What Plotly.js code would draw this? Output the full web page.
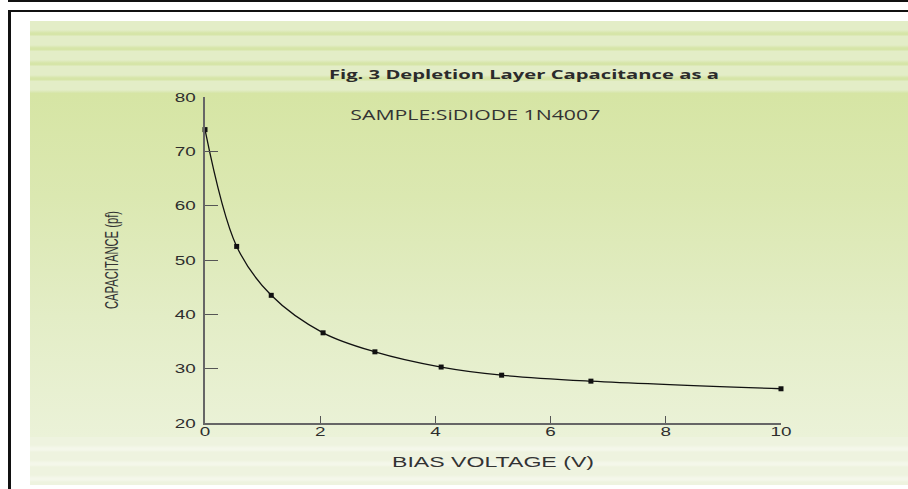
<!DOCTYPE html>
<html>
<head>
<meta charset="utf-8">
<script src="https://cdn.plot.ly/plotly-3.0.1.min.js"></script>
<style>
  html, body { margin: 0; padding: 0; background: #ffffff; }
  body { width: 908px; height: 489px; position: relative; overflow: hidden; }
  .blk { position: absolute; background: #111; }
  #topbar { left: 8px; top: 0; width: 900px; height: 2px; }
  #line2 { left: 8px; top: 10px; width: 900px; height: 2px; }
  #leftline { left: 8px; top: 10px; width: 3px; height: 479px; }
  .pn { position: absolute; left: 30px; width: 878px; }
  #pTop { top: 21px; height: 72px;
    background: repeating-linear-gradient(to bottom,
      #e3edc7 0px, #e3edc7 9px, #d6e5a8 12px, #d6e5a8 14px, #e3edc7 15px); }
  #pMain { top: 93px; height: 344px;
    background: linear-gradient(to bottom, #d6e5a4 0%, #dbe8b1 30%, #e3edc6 65%, #ebf2d8 100%); }
  #pBot { top: 437px; height: 48px;
    background: repeating-linear-gradient(to bottom,
      #eef3df 0px, #eef3df 8px, #f4f7ea 11px, #f4f7ea 13px, #eef3df 15px); }
  #chart { position: absolute; left: 0; top: 0; width: 908px; height: 489px; }
</style>
</head>
<body>
<div id="topbar" class="blk"></div>
<div id="line2" class="blk"></div>
<div id="leftline" class="blk"></div>
<div id="pTop" class="pn"></div>
<div id="pMain" class="pn"></div>
<div id="pBot" class="pn"></div>
<div id="chart"></div>
<script>
// Bias voltage (V) and measured depletion-layer capacitance (pF)
const biasVoltage = [0, 0.55, 1.15, 2.05, 2.95, 4.1, 5.15, 6.7, 10.0];
const capacitance = [74, 52.5, 43.5, 36.6, 33.1, 30.3, 28.8, 27.7, 26.3];
const xTickVals = [0, 2, 4, 6, 8, 10];
const yTickVals = [20, 30, 40, 50, 60, 70, 80];

const trace = {
  x: biasVoltage,
  y: capacitance,
  type: 'scatter',
  mode: 'lines+markers',
  cliponaxis: false,
  line: { color: '#111111', width: 1.3, shape: 'spline', smoothing: 1 },
  marker: { color: '#111111', size: 5, symbol: 'square' },
  hoverinfo: 'x+y',
  showlegend: false
};

const tickFont = { family: 'Liberation Sans, Arial, sans-serif', size: 13, color: '#2e2e2e' };

const layout = {
  width: 908,
  height: 489,
  margin: { l: 205, r: 127, t: 97, b: 66 },
  paper_bgcolor: 'rgba(0,0,0,0)',
  plot_bgcolor: 'rgba(0,0,0,0)',
  title: {
    text: 'Fig. 3 Depletion Layer Capacitance as a',
    font: { family: 'Open Sans, sans-serif', size: 13, weight: 'bold', color: '#2b2b2b' },
    xref: 'container', x: 0.577, xanchor: 'center',
    yref: 'container', y: 0.847, yanchor: 'middle'
  },
  xaxis: {
    range: [0, 10],
    tickvals: xTickVals,
    ticktext: xTickVals.map(String),
    showgrid: false, zeroline: false,
    showline: true, linecolor: '#666666', linewidth: 1.5,
    ticks: 'inside', ticklen: 7, tickcolor: '#555555', tickwidth: 1.2,
    tickfont: tickFont,
    ticklabelstandoff: -4,
    title: {
      text: 'BIAS VOLTAGE (V)',
      font: { family: 'Liberation Sans, Arial, sans-serif', size: 15, color: '#333333' },
      standoff: 18
    },
    automargin: false
  },
  yaxis: {
    range: [20, 80],
    tickvals: yTickVals,
    ticktext: yTickVals.map(String),
    showgrid: false, zeroline: false,
    showline: true, linecolor: '#666666', linewidth: 1.5,
    ticks: 'inside', ticklen: 13, tickcolor: '#555555', tickwidth: 1.2,
    tickfont: tickFont,
    ticklabelstandoff: 5,
    title: {
      text: 'CAPACITANCE (pf)',
      font: { family: 'Liberation Sans, Arial, sans-serif', size: 19, color: '#333333' },
      standoff: 58
    },
    automargin: false
  },
  annotations: [{
    text: 'SAMPLE:SiDIODE 1N4007',
    xref: 'paper', yref: 'paper',
    x: 0.469, y: 0.945,
    xanchor: 'center', yanchor: 'middle',
    showarrow: false,
    font: { family: 'Open Sans, sans-serif', size: 14, color: '#333333' }
  }]
};

// Stretch or squeeze a text element's glyphs to a given width (the source image is stretched)
function fitWidth(selector, target) {
  document.querySelectorAll(selector).forEach(function (t) {
    t.setAttribute('textLength', target);
    t.setAttribute('lengthAdjust', 'spacingAndGlyphs');
  });
}
function scaleWidth(selector, factor) {
  document.querySelectorAll(selector).forEach(function (t) {
    const w = t.getComputedTextLength();
    t.setAttribute('textLength', (w * factor).toFixed(1));
    t.setAttribute('lengthAdjust', 'spacingAndGlyphs');
  });
}

Plotly.newPlot('chart', [trace], layout, { displayModeBar: false }).then(function () {
  fitWidth('#chart .gtitle', 390);
  fitWidth('#chart .annotation-text', 250);
  fitWidth('#chart .xtitle', 202);
  fitWidth('#chart .ytitle', 98);
  scaleWidth('#chart .xtick text, #chart .ytick text', 1.45);
});
</script>
</body>
</html>
